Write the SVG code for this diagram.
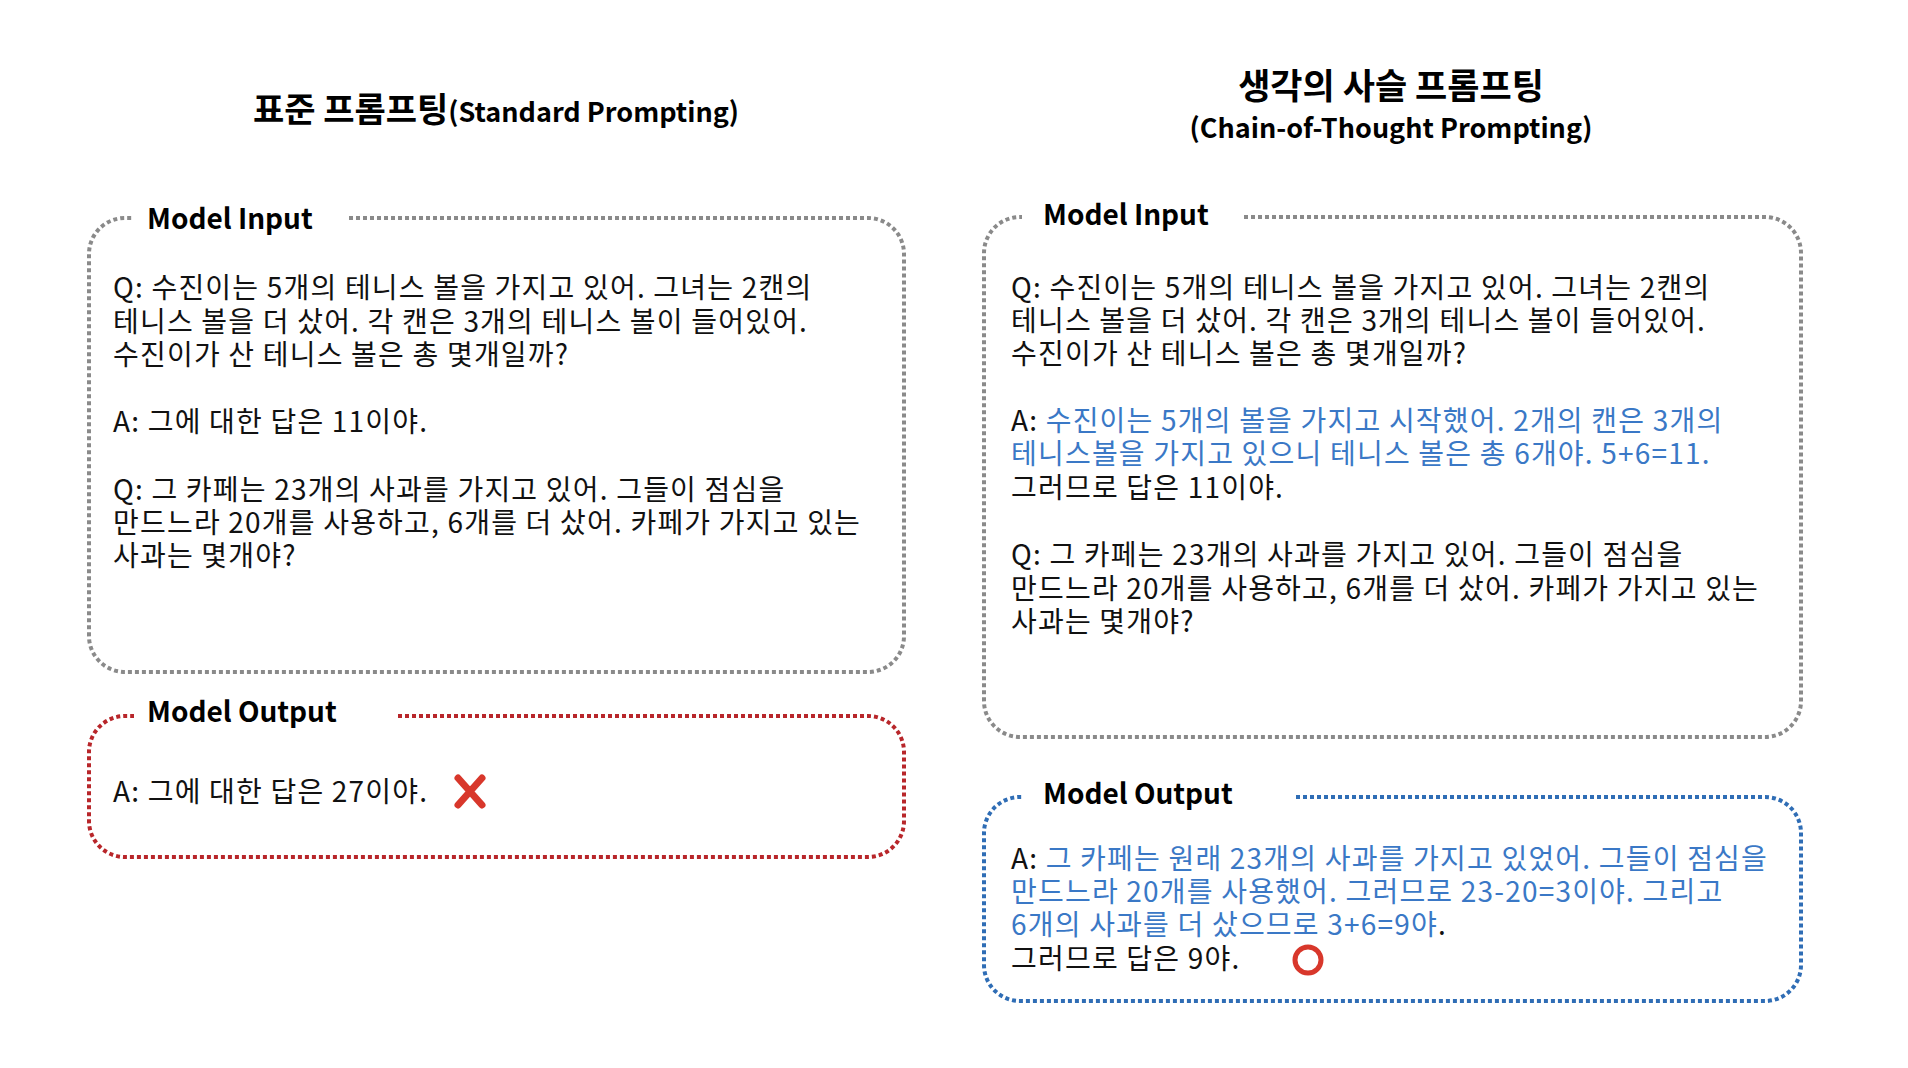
<svg xmlns="http://www.w3.org/2000/svg" width="1908" height="1068" viewBox="0 0 1908 1068">
<style>
.t{font-family:"Noto Sans CJK KR","Noto Sans",sans-serif;font-size:28px;letter-spacing:1.2px;fill:#111}
.b{fill:#3A78C6}
.ttl{font-family:"Noto Sans CJK KR","Noto Sans",sans-serif;font-weight:bold;fill:#000}
.lbl{font-family:"Noto Sans CJK KR","Noto Sans",sans-serif;font-weight:bold;font-size:28px;fill:#000}
.box{fill:none;stroke-width:4;stroke-dasharray:4 3}
.gray{stroke:#8A8A8A}
.red{stroke:#B8262A}
.blue{stroke:#2F6DB5}
</style>
<rect width="1908" height="1068" fill="#fff"/>
<g id="title-left">
<text class="ttl" x="496" y="122" text-anchor="middle"><tspan font-size="34">표준 프롬프팅</tspan><tspan font-size="27">(Standard Prompting)</tspan></text>
</g>
<g id="title-right">
<text class="ttl" x="1391" y="99" text-anchor="middle" font-size="35">생각의 사슬 프롬프팅</text>
<text class="ttl" x="1391" y="138" text-anchor="middle" font-size="27">(Chain-of-Thought Prompting)</text>
</g>
<g id="std-input">
<path class="box gray" d="M349 218 H868 A36 36 0 0 1 904 254 V636 A36 36 0 0 1 868 672 H125 A36 36 0 0 1 89 636 V254 A36 36 0 0 1 125 218 H134"/>
<text class="lbl" x="147" y="229">Model Input</text>
<text class="t" x="113" y="298">Q: 수진이는 5개의 테니스 볼을 가지고 있어. 그녀는 2캔의</text>
<text class="t" x="113" y="332">테니스 볼을 더 샀어. 각 캔은 3개의 테니스 볼이 들어있어.</text>
<text class="t" x="113" y="365">수진이가 산 테니스 볼은 총 몇개일까?</text>
<text class="t" x="113" y="432">A: 그에 대한 답은 11이야.</text>
<text class="t" x="113" y="500">Q: 그 카페는 23개의 사과를 가지고 있어. 그들이 점심을</text>
<text class="t" x="113" y="533">만드느라 20개를 사용하고, 6개를 더 샀어. 카페가 가지고 있는</text>
<text class="t" x="113" y="566">사과는 몇개야?</text>
</g>
<g id="std-output">
<path class="box red" d="M398 716 H868 A36 36 0 0 1 904 752 V821 A36 36 0 0 1 868 857 H125 A36 36 0 0 1 89 821 V752 A36 36 0 0 1 125 716 H134"/>
<text class="lbl" x="147" y="722">Model Output</text>
<text class="t" x="113" y="802">A: 그에 대한 답은 27이야.</text>
<path d="M458 778 L482 805 M482 778 L458 805" stroke="#D8372B" stroke-width="7" stroke-linecap="round" fill="none"/>
</g>
<g id="cot-input">
<path class="box gray" d="M1244 217 H1765 A36 36 0 0 1 1801 253 V701 A36 36 0 0 1 1765 737 H1020 A36 36 0 0 1 984 701 V253 A36 36 0 0 1 1020 217 H1022"/>
<text class="lbl" x="1043" y="225">Model Input</text>
<text class="t" x="1011" y="298">Q: 수진이는 5개의 테니스 볼을 가지고 있어. 그녀는 2캔의</text>
<text class="t" x="1011" y="331">테니스 볼을 더 샀어. 각 캔은 3개의 테니스 볼이 들어있어.</text>
<text class="t" x="1011" y="364">수진이가 산 테니스 볼은 총 몇개일까?</text>
<text class="t" x="1011" y="431">A: <tspan class="b">수진이는 5개의 볼을 가지고 시작했어. 2개의 캔은 3개의</tspan></text>
<text class="t b" x="1011" y="464">테니스볼을 가지고 있으니 테니스 볼은 총 6개야. 5+6=11.</text>
<text class="t" x="1011" y="498">그러므로 답은 11이야.</text>
<text class="t" x="1011" y="565">Q: 그 카페는 23개의 사과를 가지고 있어. 그들이 점심을</text>
<text class="t" x="1011" y="599">만드느라 20개를 사용하고, 6개를 더 샀어. 카페가 가지고 있는</text>
<text class="t" x="1011" y="632">사과는 몇개야?</text>
</g>
<g id="cot-output">
<path class="box blue" d="M1296 797 H1765 A36 36 0 0 1 1801 833 V965 A36 36 0 0 1 1765 1001 H1020 A36 36 0 0 1 984 965 V833 A36 36 0 0 1 1020 797 H1022"/>
<text class="lbl" x="1043" y="804">Model Output</text>
<text class="t" x="1011" y="869">A: <tspan class="b">그 카페는 원래 23개의 사과를 가지고 있었어. 그들이 점심을</tspan></text>
<text class="t b" x="1011" y="902">만드느라 20개를 사용했어. 그러므로 23-20=3이야. 그리고</text>
<text class="t" x="1011" y="935"><tspan class="b">6개의 사과를 더 샀으므로 3+6=9야</tspan>.</text>
<text class="t" x="1011" y="969">그러므로 답은 9야.</text>
<circle cx="1308" cy="960" r="13" fill="none" stroke="#D8372B" stroke-width="5"/>
</g>
</svg>
